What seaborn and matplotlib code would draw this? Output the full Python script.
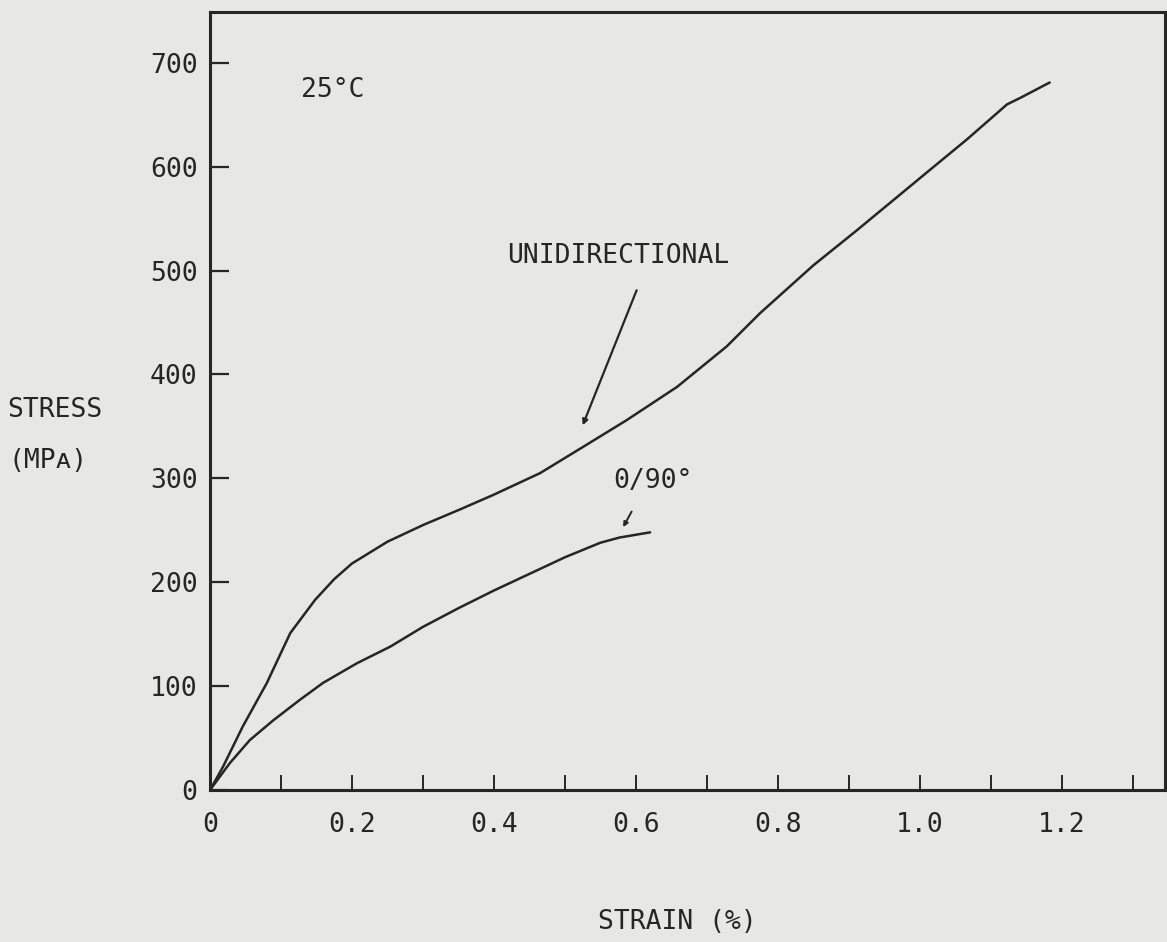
import numpy as np
import pandas as pd
import matplotlib
matplotlib.use("Agg")
import matplotlib.pyplot as plt
import seaborn as sns
from matplotlib.ticker import FixedLocator

# ---- data ----
uni_strain = [0.0, 0.018, 0.046, 0.080, 0.113, 0.148, 0.175, 0.20, 0.25, 0.30, 0.352,
              0.399, 0.465, 0.525, 0.587, 0.658, 0.728, 0.775, 0.85, 0.91, 0.972,
              1.018, 1.066, 1.123, 1.141, 1.183]
uni_stress = [0, 22, 61, 103, 151, 183, 203, 218, 239, 255, 270,
              284, 305, 330, 356, 388, 427, 459, 505, 538, 573,
              599, 626, 660, 666, 681]
cp_strain = [0.0, 0.028, 0.056, 0.089, 0.127, 0.159, 0.207, 0.254, 0.30, 0.35,
             0.40, 0.45, 0.50, 0.55, 0.577, 0.620]
cp_stress = [0, 26, 48, 67, 87, 103, 122, 138, 157, 175,
             192, 208, 224, 238, 243, 248]
series_names = ["UNIDIRECTIONAL", "0/90°"]

x_major = [0.0, 0.2, 0.4, 0.6, 0.8, 1.0, 1.2]
x_major_labels = ["0", "0.2", "0.4", "0.6", "0.8", "1.0", "1.2"]
x_minor = [0.1, 0.3, 0.5, 0.7, 0.9, 1.1, 1.3]
y_ticks = [0, 100, 200, 300, 400, 500, 600, 700]
y_tick_labels = ["0", "100", "200", "300", "400", "500", "600", "700"]

df = pd.concat([
    pd.DataFrame({"strain": uni_strain, "stress": uni_stress, "series": series_names[0]}),
    pd.DataFrame({"strain": cp_strain, "stress": cp_stress, "series": series_names[1]}),
], ignore_index=True)

sns.set_theme(style="white")
FONT = ["DejaVu Sans Mono", "DejaVu Sans"]
plt.rcParams["font.family"] = FONT

paper = "#e7e7e5"
ink = "#262626"

fig = plt.figure(figsize=(11.67, 9.42), dpi=100, facecolor=paper)
ax = fig.add_axes([0.180, 0.1614, 0.818, 0.826])
ax.set_facecolor(paper)

sns.lineplot(data=df, x="strain", y="stress", hue="series", sort=False,
             palette={series_names[0]: ink, series_names[1]: ink},
             linewidth=1.8, legend=False, ax=ax, estimator=None)

ax.set_xlim(0, 1.345)
ax.set_ylim(0, 749)

for s in ax.spines.values():
    s.set_visible(True)
    s.set_color(ink)
    s.set_linewidth(2.2)

ax.xaxis.set_major_locator(FixedLocator(x_major))
ax.xaxis.set_minor_locator(FixedLocator(x_minor))
ax.set_xticklabels(x_major_labels)
ax.set_yticks(y_ticks)
ax.set_yticklabels(y_tick_labels)

ax.tick_params(axis="x", which="both", direction="in", length=11, width=1.4,
               color=ink, labelsize=19, labelcolor=ink, pad=16,
               bottom=True, top=False)
ax.tick_params(axis="y", which="major", direction="in", length=14, width=1.6,
               color=ink, labelsize=19, labelcolor=ink, pad=9,
               left=True, right=False)
ax.set_xlabel("")
ax.set_ylabel("")

# annotations
ax.text(0.173, 674, "25°C", fontsize=19, color=ink, ha="center", va="center")
ax.text(0.575, 514, series_names[0], fontsize=19, color=ink, ha="center", va="center")
ax.annotate("", xy=(0.525, 351), xytext=(0.601, 481),
            arrowprops=dict(arrowstyle="-|>", color=ink, lw=1.6,
                            mutation_scale=8, shrinkA=0, shrinkB=0))
ax.text(0.624, 297, series_names[1], fontsize=19, color=ink, ha="center", va="center")
ax.annotate("", xy=(0.582, 253), xytext=(0.594, 268),
            arrowprops=dict(arrowstyle="-|>", color=ink, lw=1.4,
                            mutation_scale=7, shrinkA=0, shrinkB=0))

# axis titles
fig.text(55 / 1167, 1 - 410 / 942, "STRESS", fontsize=19, color=ink,
         ha="center", va="center")
fig.text(48 / 1167, 1 - 461 / 942, "(MPᴀ)", fontsize=19, color=ink,
         ha="center", va="center")
fig.text(677 / 1167, 1 - 922 / 942, "STRAIN (%)", fontsize=19, color=ink,
         ha="center", va="center")

fig.savefig("out.png", dpi=100, facecolor=paper)
